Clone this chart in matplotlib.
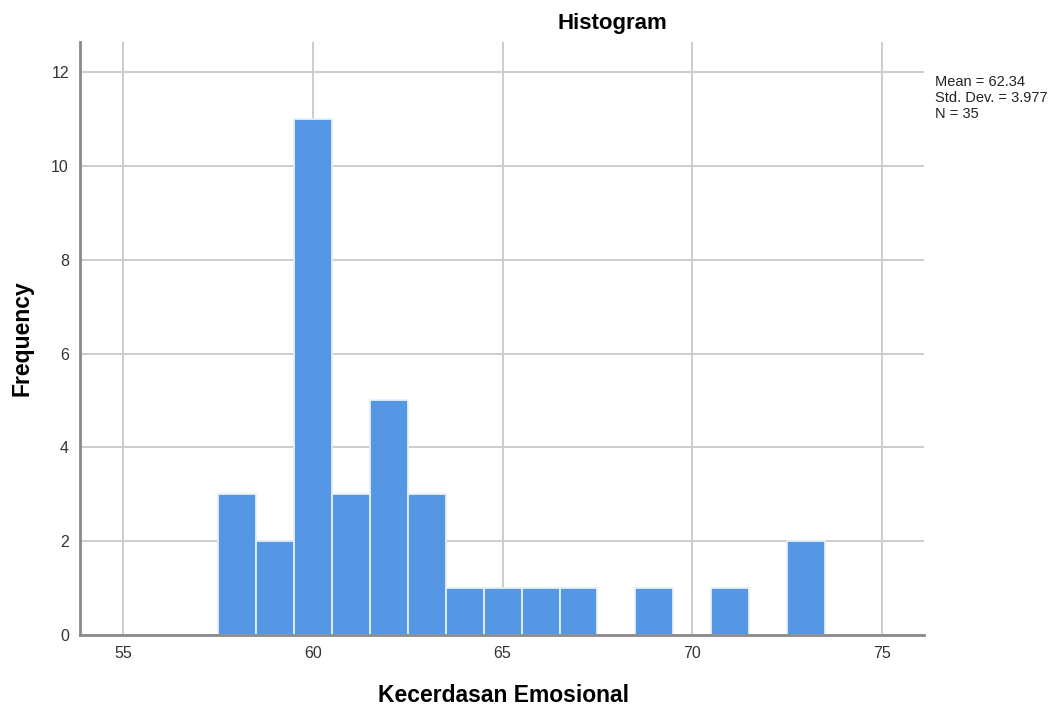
import matplotlib.pyplot as plt
import numpy as np

plt.rcParams['font.family'] = ['Liberation Sans', 'DejaVu Sans']

# Data (bin centres, width 1)
bin_centers = [58, 59, 60, 61, 62, 63, 64, 65, 66, 67, 68, 69, 70, 71, 72, 73]
counts = [3, 2, 11, 3, 5, 3, 1, 1, 1, 1, 0, 1, 0, 1, 0, 2]
x_ticks = [55, 60, 65, 70, 75]
y_ticks = [0, 2, 4, 6, 8, 10, 12]
stats_text = "Mean = 62.34\nStd. Dev. = 3.977\nN = 35"

fig = plt.figure(figsize=(10.63, 7.13), dpi=100)
ax = fig.add_axes([80/1063, 1 - 635/713, (924 - 80)/1063, (635 - 42)/713])

ax.bar(bin_centers, counts, width=1.0, color='#5596e5', edgecolor='#e6effc',
       linewidth=1.3, zorder=2)

ax.set_xlim(53.87, 76.1)
ax.set_ylim(0, 12.64)
ax.set_xticks(x_ticks)
ax.set_yticks(y_ticks)
ax.grid(True, color='#cccccc', linewidth=1.4)
ax.set_axisbelow(True)

for s in ['top', 'right']:
    ax.spines[s].set_visible(False)
for s in ['left', 'bottom']:
    ax.spines[s].set_color('#8a8a8a')
    ax.spines[s].set_linewidth(2)

ax.tick_params(length=0, labelsize=11.5, labelcolor='#333333', pad=8)

fig.text(612/1063, 1 - 23/713, 'Histogram', ha='center', va='center',
         fontsize=16, fontweight='bold')
fig.text(503/1063, 1 - 695/713, 'Kecerdasan Emosional', ha='center', va='center',
         fontsize=16.5, fontweight='bold')
fig.text(22/1063, 1 - 338/713, 'Frequency', ha='center', va='center',
         rotation=90, fontsize=16.5, fontweight='bold')
fig.text(935/1063, 1 - 75/713, stats_text, ha='left', va='top',
         fontsize=10.5, linespacing=1.2, color='#222222')

fig.savefig('out.png', dpi=100)
